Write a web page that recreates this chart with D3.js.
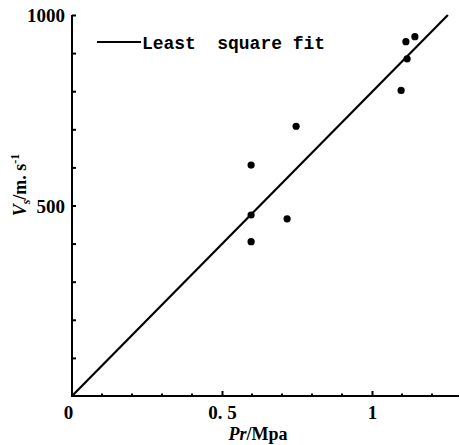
<!DOCTYPE html>
<html><head><meta charset="utf-8">
<script src="https://cdn.jsdelivr.net/npm/d3@7"></script>
<style>
html,body{margin:0;padding:0;background:#fff;}
svg{display:block;}
</style></head>
<body>
<script>
// data
const pr = [0.747, 0.597, 0.597, 0.717, 0.597, 1.113, 1.143, 1.117, 1.097];
const vs = [708, 606, 475, 465, 405, 930, 943, 885, 802];
const fitX = [0, 1.253];
const fitY = [0, 1000];
const xTickValues = [0, 0.5, 1];
const xTickLabels = ["0", "0. 5", "1"];
const xMinorTicks = [0.1,0.2,0.3,0.4,0.6,0.7,0.8,0.9,1.1,1.2];
const yTickValues = [100,200,300,400,500,600,700,800,900,1000];
const yTickLabels = {500:"500", 1000:"1000"};
const legendLabel = "Least  square fit";

const W = 460, H = 445;
const svg = d3.select("body").append("svg").attr("width", W).attr("height", H);
const x = d3.scaleLinear().domain([0, 1.29]).range([72, 459]);
const y = d3.scaleLinear().domain([0, 1000]).range([396, 15]);
const serif = "'Liberation Serif', 'DejaVu Serif', serif";

// x axis
const xAxis = d3.axisBottom(x).tickValues(xTickValues).tickSize(-5).tickPadding(10)
  .tickFormat((d,i) => xTickLabels[i]);
const gx = svg.append("g").attr("transform", `translate(0,${y(0)})`).call(xAxis);
gx.select(".domain").attr("stroke-width", 2).attr("d", `M${x(0)},0H${x(1.29)}`);
gx.selectAll(".tick line").attr("stroke-width", 2);
gx.selectAll(".tick text").attr("font-family", serif).attr("font-weight", "bold")
  .attr("font-size", 19).attr("fill", "#000");
gx.selectAll(".tick").filter(d => d === 0).select("line").remove();
gx.selectAll(".tick").filter(d => d === 0).select("text").attr("dx", -4);
// minor x ticks
svg.append("g").selectAll("line").data(xMinorTicks).join("line")
  .attr("x1", d => x(d)).attr("x2", d => x(d))
  .attr("y1", y(0)).attr("y2", y(0) - 2.5)
  .attr("stroke", "#000").attr("stroke-width", 2);

// y axis
const yAxis = d3.axisLeft(y).tickValues(yTickValues).tickSize(-4).tickPadding(7)
  .tickFormat(d => yTickLabels[d] || "");
const gy = svg.append("g").attr("transform", `translate(${x(0)},0)`).call(yAxis);
gy.select(".domain").attr("stroke-width", 2).attr("d", `M0,${y(0)+1}V${y(1000)}`);
gy.selectAll(".tick line").attr("stroke-width", 2);
gy.selectAll(".tick text").attr("font-family", serif).attr("font-weight", "bold")
  .attr("font-size", 19).attr("fill", "#000").attr("dy", "0.36em");

// fit line
svg.append("line")
  .attr("x1", x(fitX[0])).attr("y1", y(fitY[0]))
  .attr("x2", x(fitX[1])).attr("y2", y(fitY[1]))
  .attr("stroke", "#000").attr("stroke-width", 2.2);

// points
svg.append("g").selectAll("circle").data(pr.map((p,i)=>[p, vs[i]])).join("circle")
  .attr("cx", d => x(d[0])).attr("cy", d => y(d[1])).attr("r", 3.6).attr("fill", "#000");

// legend
svg.append("line").attr("x1", 97).attr("x2", 141).attr("y1", 42).attr("y2", 42)
  .attr("stroke", "#000").attr("stroke-width", 2.2);
svg.append("text").attr("x", 142).attr("y", 48.5)
  .attr("font-family", "'Liberation Mono', 'DejaVu Sans Mono', monospace")
  .attr("font-weight", "bold").attr("font-size", 18)
  .attr("textLength", 183).attr("lengthAdjust", "spacing")
  .style("white-space", "pre").attr("fill", "#000").text(legendLabel);

// x axis title
const xt = svg.append("text").attr("x", 258).attr("y", 440).attr("text-anchor", "middle")
  .attr("font-family", serif).attr("font-weight", "bold").attr("font-size", 18).attr("fill", "#000");
xt.append("tspan").attr("font-style", "italic").text("Pr");
xt.append("tspan").text("/Mpa");

// y axis title
const yt = svg.append("text").attr("transform", "translate(26,185) rotate(-90)")
  .attr("text-anchor", "middle")
  .attr("font-family", serif).attr("font-weight", "bold").attr("font-size", 18).attr("fill", "#000");
yt.append("tspan").attr("font-style", "italic").text("V");
yt.append("tspan").attr("font-style", "italic").attr("font-size", 12).attr("dy", 4).text("s");
yt.append("tspan").attr("dy", -4).text("/m. s");
yt.append("tspan").attr("font-size", 12).attr("dy", -7).text("-1");
</script>
</body></html>
